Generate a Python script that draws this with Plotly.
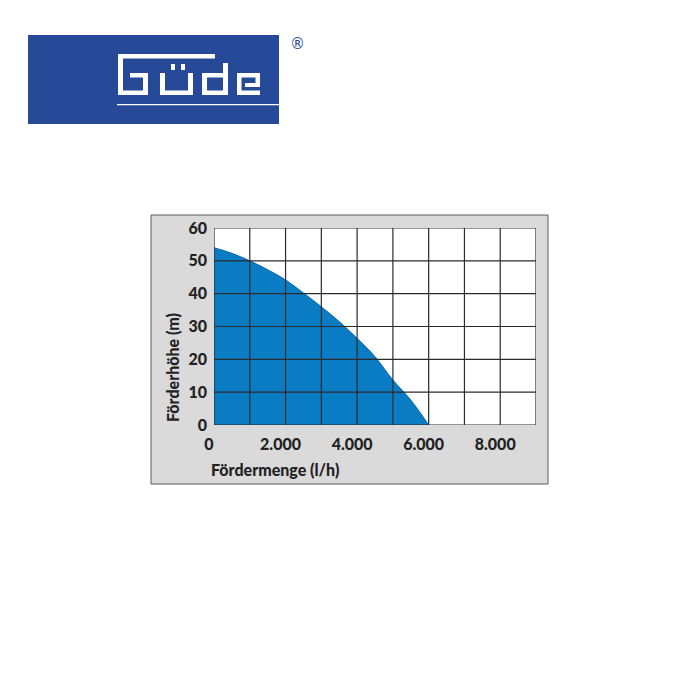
import plotly.graph_objects as go

# ---- data ----
flow_lph = [0, 500, 1000, 1500, 2000, 2500, 3000, 3500, 4000, 4500, 5000, 5500, 6000]
head_m = [54, 52.3, 50, 47.3, 44.2, 40.2, 36, 31.5, 26.4, 20.8, 13.7, 7.6, 0]
x_grid = [0, 1000, 2000, 3000, 4000, 5000, 6000, 7000, 8000, 9000]
y_grid = [0, 10, 20, 30, 40, 50, 60]
x_tickvals = [0, 2000, 4000, 6000, 8000]
x_ticktext = ["0", "2.000", "4.000", "6.000", "8.000"]
y_tickvals = [0, 10, 20, 30, 40, 50, 60]
y_ticktext = ["0", "10", "20", "30", "40", "50", "60"]
x_title = "Fördermenge (l/h)"
y_title = "Förderhöhe (m)"

W = H = 700
FONT = "Lato"
TXT = "#222222"
FS = 16
FW = 900


def px(x):
    return x / W


def py(y):
    return 1 - y / H


def prect(x0, y0, x1, y1, fill, line=None, lw=0, layer="above"):
    return dict(type="rect", xref="paper", yref="paper",
                x0=px(x0), x1=px(x1), y0=py(y1), y1=py(y0),
                fillcolor=fill, line=dict(color=line or fill, width=lw),
                layer=layer)


PL, PR, PT, PB = 214, 536, 228, 425  # plot area in pixels

fig = go.Figure()
fig.add_trace(go.Scatter(
    x=flow_lph, y=head_m, mode="lines", line=dict(color="#0c66a8", width=1, shape="spline"),
    fill="tozeroy", fillcolor="#0a7cc4", hoverinfo="skip", showlegend=False))

shapes = []
# gray frame around the chart, white plot area
shapes.append(prect(151, 215, 548, 484, "#dadada", "#5a5a5a", 1, layer="below"))
shapes.append(prect(PL, PT, PR, PB, "white", layer="below"))
# grid lines drawn above the filled area
for xv in x_grid:
    shapes.append(dict(type="line", xref="x", yref="y", x0=xv, x1=xv, y0=y_grid[0], y1=y_grid[-1],
                       line=dict(color="#2b2b2b", width=1.2), layer="above"))
for yv in y_grid:
    shapes.append(dict(type="line", xref="x", yref="y", x0=x_grid[0], x1=x_grid[-1], y0=yv, y1=yv,
                       line=dict(color="#2b2b2b", width=1.2), layer="above"))

# logo
BLUE = "#264a97"
shapes.append(prect(28, 35, 279, 124, BLUE))
WH = "white"
logo_parts = [
    (118, 54, 215, 58.5), (118, 54, 123, 95), (118, 90.5, 148, 95), (143, 73, 148, 95),
    (130, 73, 148, 77.5), (160, 73, 165, 95), (160, 90.5, 193, 95), (188, 73, 193, 95),
    (171, 64, 175, 70), (181, 64, 185, 70), (202, 73, 207, 95), (202, 73, 228, 77.5),
    (202, 90.5, 228, 95), (223, 63, 228, 95), (237, 73, 241.5, 95), (237, 73, 260, 77.5),
    (255.5, 73, 260, 87), (245, 83, 260, 87), (237, 90.5, 260, 95), (117, 104, 279, 105.2),
]
for (a, b, c, d) in logo_parts:
    shapes.append(prect(a, b, c, d, WH))

annotations = [
    dict(text="®", x=px(297), y=py(44), xref="paper", yref="paper", showarrow=False,
         font=dict(family="DejaVu Sans", size=15, color=BLUE), xanchor="center", yanchor="middle"),
    dict(text=x_title, x=px(209), y=py(470), xref="paper", yref="paper", showarrow=False,
         font=dict(family=FONT, size=FS, color=TXT, weight=FW), xanchor="left", yanchor="middle"),
    dict(text=y_title, x=px(172), y=py(368), xref="paper", yref="paper", showarrow=False, textangle=-90,
         font=dict(family=FONT, size=FS, color=TXT, weight=FW), xanchor="center", yanchor="middle"),
]

fig.update_layout(
    width=W, height=H, margin=dict(l=0, r=0, t=0, b=0, pad=0, autoexpand=False),
    paper_bgcolor="white", plot_bgcolor="rgba(0,0,0,0)",
    shapes=shapes, annotations=annotations, showlegend=False,
    xaxis=dict(domain=[px(PL), px(PR)], range=[0, 9000], tickvals=x_tickvals, ticktext=x_ticktext,
               showgrid=False, zeroline=False, showline=False, ticks="", automargin=False,
               tickfont=dict(family=FONT, size=FS, color=TXT, weight=FW), ticklabelstandoff=8,
               ticklabelshift=-5, fixedrange=True),
    yaxis=dict(domain=[py(PB), py(PT)], range=[0, 60], tickvals=y_tickvals, ticktext=y_ticktext,
               showgrid=False, zeroline=False, showline=False, ticks="", automargin=False,
               tickfont=dict(family=FONT, size=FS, color=TXT, weight=FW), ticklabelstandoff=6,
               fixedrange=True),
)

PAGE_FIX = (
    "document.body.style.margin='0';"
    "document.body.style.overflow='hidden';"
)

fig.write_html("out.html", config={"displayModeBar": False}, post_script=PAGE_FIX)
